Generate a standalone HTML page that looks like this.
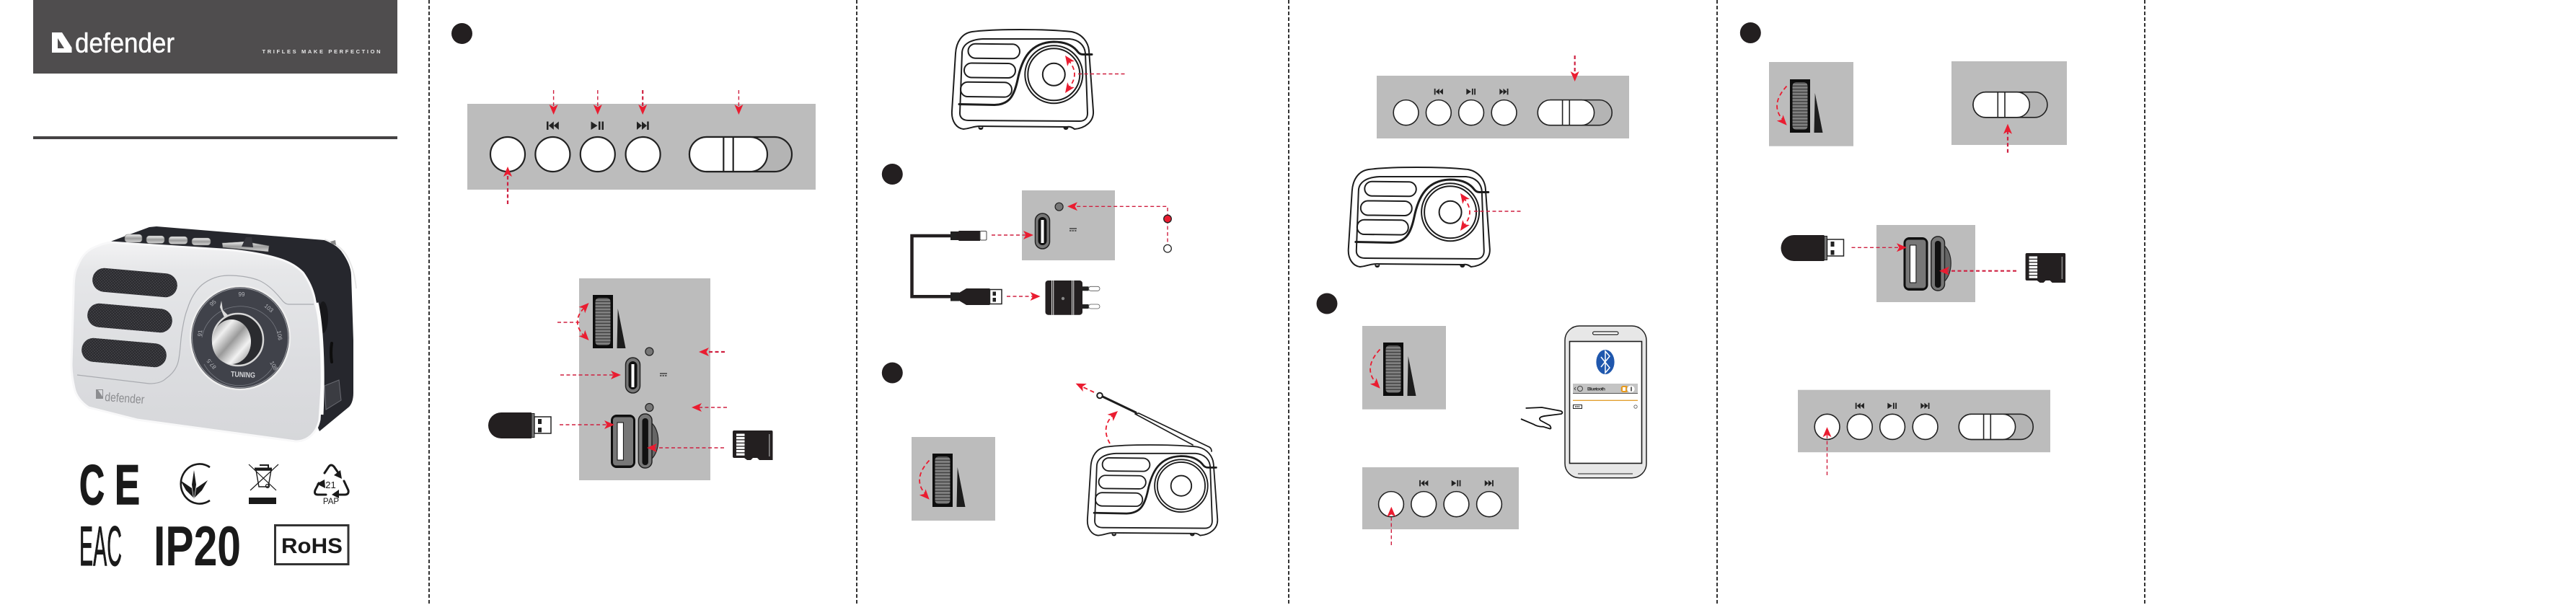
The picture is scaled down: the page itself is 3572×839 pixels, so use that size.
<!DOCTYPE html>
<html><head><meta charset="utf-8"><title>Defender radio manual</title>
<style>
html,body{margin:0;padding:0;background:#fff;width:3572px;height:839px;overflow:hidden}
svg{display:block;position:absolute;left:0;top:0}
text{font-family:"Liberation Sans",sans-serif}
.v{stroke:#333;stroke-width:2;stroke-dasharray:5 3;fill:none}
.d{stroke:#cf2040;stroke-width:1.4;stroke-dasharray:5 3.5;fill:none}
.t{stroke:#cf2040;stroke-width:2.2;stroke-dasharray:5 3.5;fill:none}
.a{stroke:#ea1c30;stroke-width:1.8;stroke-dasharray:6 4;fill:none}
.l{fill:none;stroke:#1d1d1d;stroke-width:2;stroke-linejoin:round;stroke-linecap:round}
</style></head><body>
<svg width="3572" height="839" viewBox="0 0 3572 839" xmlns="http://www.w3.org/2000/svg">
<defs>
<linearGradient id="bodyG" x1="0" y1="0" x2="0" y2="1"><stop offset="0" stop-color="#f3f3f4"/><stop offset=".14" stop-color="#e6e7e9"/><stop offset=".6" stop-color="#dcdde0"/><stop offset="1" stop-color="#d6d7da"/></linearGradient>
<linearGradient id="knobG" x1="0" y1="0" x2="1" y2="1"><stop offset="0" stop-color="#7c7c7c"/><stop offset=".28" stop-color="#efefef"/><stop offset=".5" stop-color="#9a9a9a"/><stop offset=".72" stop-color="#f2f2f2"/><stop offset="1" stop-color="#7e7e7e"/></linearGradient>
<linearGradient id="chrome" x1="0" y1="0" x2="0" y2="1"><stop offset="0" stop-color="#f2f2f2"/><stop offset=".5" stop-color="#9c9c9c"/><stop offset="1" stop-color="#d4d4d4"/></linearGradient>
<pattern id="mesh" width="4" height="4" patternUnits="userSpaceOnUse"><rect width="4" height="4" fill="#2b2b2f"/><circle cx="1" cy="1" r=".7" fill="#56565c"/><circle cx="3" cy="3" r=".7" fill="#56565c"/></pattern>
<pattern id="ribs" width="8" height="4.3" patternUnits="userSpaceOnUse"><rect width="8" height="4.3" fill="#808080"/><rect width="8" height="1.4" fill="#3e3e3e"/></pattern>

<polygon id="h" points="0,0 -14,-6 -10.5,0 -14,6" fill="#ea1c30"/>

<g id="wheel">
<rect x="0" y="0" width="28" height="74" fill="#0d0d0d"/>
<rect x="3.5" y="4" width="21" height="66" rx="5" fill="url(#ribs)"/>
<polygon points="34.7,19 33.5,74 45.5,74" fill="#1d1d1d"/>
</g>
<g id="arcA">
<path class="a" d="M-4.5 9.5Q-29.5 36.5-8 58"/>
<use href="#h" transform="translate(-4.3,63.7) rotate(47)"/>
</g>

<g id="btns" fill="#fff" stroke="#222" stroke-width="2.2">
<ellipse cx="56" cy="70" rx="24" ry="24"/><ellipse cx="118.4" cy="70" rx="24" ry="24"/><ellipse cx="180.8" cy="70" rx="24" ry="24"/><ellipse cx="243.6" cy="70" rx="24" ry="24"/>
</g>
<g id="icons" fill="#222">
<path d="M110 24.500h2.500v11.500h-2.500zM112.800 30.200l7-5.700v11.400zM119.800 30.200l7-5.700v11.400z"/>
<path d="M171.500 24.500l9 5.700-9 5.800zM182 24.500h2.500v11.500H182zM186.500 24.500h2.500v11.500h-2.500z"/>
<path d="M235 24.500l7 5.700-7 5.800zM242 24.500l7 5.700-7 5.800zM249.200 24.500h2.500v11.500h-2.500z"/>
</g>
<g id="slider">
<rect x="308" y="46" width="142" height="48" rx="24" fill="#b4b4b4" stroke="#222" stroke-width="2.2"/>
<rect x="308" y="46" width="108" height="48" rx="24" fill="#fff" stroke="#222" stroke-width="2.2"/>
<path d="M355.300 46V94M368.700 46V94" stroke="#222" stroke-width="2.2"/>
</g>

<g id="usbc">
<rect x="0" y="0" width="20" height="49" rx="10" fill="#777" stroke="#222" stroke-width="1.500"/>
<rect x="4" y="5" width="12" height="39" rx="6" fill="#111"/>
<rect x="8" y="9" width="4" height="32" fill="#fff"/>
</g>
<g id="ports">
<path d="M56 11C69 22 69 50 56 62Z" fill="#666" stroke="#222" stroke-width="1.200"/>
<rect x="0" y="0" width="34" height="74" rx="8" fill="#0f0f0f"/>
<rect x="3" y="3.500" width="28" height="67" rx="4" fill="#777"/>
<rect x="9" y="11" width="8.400" height="52" fill="#fff" stroke="#111" stroke-width="1"/>
<rect x="38.400" y="-1" width="18.600" height="75" rx="9" fill="#777" stroke="#222" stroke-width="1.500"/>
<rect x="43.500" y="5" width="8.400" height="65" rx="4" fill="#111"/>
</g>
<g id="stick">
<path d="M18 0H60V36H18A18 18 0 0 1 18 0Z" fill="#231f20"/>
<rect x="60" y="1.500" width="4" height="33" fill="#777" stroke="#222" stroke-width="1"/>
<rect x="64" y="6" width="23" height="23" fill="#fff" stroke="#222" stroke-width="1.500"/>
<rect x="69" y="9" width="5" height="7" fill="#222"/><rect x="69" y="21" width="5" height="6.500" fill="#222"/>
</g>
<g id="sd">
<path d="M2 0H54Q55.500 0 55.500 2V41H37L34 38H28L25 41H20L16 38H2Q0 38 0 36V2Q0 0 2 0Z" fill="#231f20"/>
<g fill="#fff"><rect x="5" y="4.500" width="11.500" height="3.200"/><rect x="5" y="9" width="11.500" height="3.200"/><rect x="5" y="13.500" width="11.500" height="3.200"/><rect x="5" y="18" width="11.500" height="3.200"/><rect x="5" y="22.500" width="11.500" height="3.200"/><rect x="5" y="27" width="11.500" height="3.200"/><rect x="5" y="31.500" width="11.500" height="3.200"/></g>
<rect x="50" y="5" width="1.600" height="31" fill="#8a8a8a"/>
</g>
<g id="radio" class="l">
<path d="M29 3C60-1 130-1 167 3C182 6 190 18 191 29L197 113C198 128 185 137 171 138C168 136 165 134 160 135L40 134C30 134 28 137 17 138C8 137 0 128 1 113L6 33C7 17 15 5 29 3Z" fill="#fff"/>
<path d="M44 13L164 13C177 14 185 22 186 33L189 116C189 122 186 127 178 127L24 126C16 126 12 122 12 116L15 33C15 22 24 14 44 13Z"/>
<path d="M11 103.500L60 104.500C80 104 87 93 92 70C98 40 110 18 142 17C158 17 168 22 174 29C177 33 179 34.500 183 34.500L195 34.500" stroke-width="3"/>
<rect x="23.500" y="20" width="71.500" height="20" rx="10" transform="rotate(.6 59 30)"/>
<rect x="18" y="46.700" width="71" height="20" rx="10" transform="rotate(.6 53 56)"/>
<rect x="13" y="73" width="71" height="20.300" rx="10" transform="rotate(.6 48 83)"/>
<circle cx="142.300" cy="62.300" r="40"/>
<circle cx="142.300" cy="62.300" r="36"/>
<circle cx="142.300" cy="62.300" r="15.500"/>
<path d="M38.500 136a2.500 2 0 0 0 5 0M156.500 136a2.500 2 0 0 0 5 0" fill="#222"/>
</g>
</defs>

<!-- fold lines -->
<path class="v" d="M595 0V839M1188 0V839M1787 0V839M2381 0V839M2974 0V839"/>

<!-- PANEL 1 -->
<rect x="46" y="0" width="505" height="102" fill="#4f4d4e"/>
<path d="M72 45H99.500V73H72Z" fill="#fff"/>
<path d="M86 45H99.500V66ZM80 53V67H89Z" fill="#4f4d4e"/>
<text x="104" y="72.500" font-size="38" fill="#fff" stroke="#fff" stroke-width=".5" textLength="138" lengthAdjust="spacingAndGlyphs">defender</text>
<text x="363.500" y="74" font-size="7.500" font-weight="bold" fill="#e8e8e8" textLength="164">TRIFLES MAKE PERFECTION</text>
<rect x="46" y="189" width="505" height="4" fill="#454344"/>

<!-- photo -->
<path d="M153 335L207 315L217 314L450 333C462 338 468 342 473 348C482 360 487 372 487 382L490 472L490 545C490 555 487 562 483 565L443 598L400 500Z" fill="#26272d"/>
<path d="M450 332C465 337 475 345 481 355C488 368 492 380 494 400" fill="none" stroke="#e8e8e8" stroke-width="2"/>
<path d="M458 335L465 333L466 340L460 338Z" fill="#888"/>
<ellipse cx="448" cy="440" rx="7" ry="22" fill="#17171a"/>
<path d="M460 476q-2 13 0 26" fill="none" stroke="#0d0d0d" stroke-width="4" stroke-linecap="round"/>
<path d="M450 535L470 527L473 555L452 568Z" fill="#3b3c42" stroke="#6a6b72" stroke-width="1"/>
<g stroke="#666" stroke-width=".6" fill="url(#chrome)">
<rect x="173" y="325" width="24" height="11" rx="4"/>
<rect x="203" y="327" width="25" height="10.500" rx="4"/>
<rect x="234" y="328" width="26" height="10.500" rx="4"/>
<rect x="266" y="330" width="26" height="10" rx="4"/>
<path d="M308 337L340 335L373 341L372 349L309 343Z"/>
</g>
<path d="M335 342L341 329L349 329L351 343Z" fill="#34343a"/>
<path d="M153 336L323 347C350 350 372 354 390 360C405 365 414 372 420 378C430 392 435 405 437 418C442 440 445 455 445 472L447 522L443 582C441 592 436 600 430 605C424 610 417 612 410 612L190 582L123 565C112 558 105 548 103 538C100 525 99 515 99 505L102 405C102 385 104 375 108 368C113 355 122 346 133 342C140 339 147 337 153 336Z" fill="url(#bodyG)" stroke="#f8f8f9" stroke-width="3"/>
<path d="M439 420C446 450 449 510 446 575" fill="none" stroke="#fbfbfb" stroke-width="5"/>
<path d="M107 520L207 532C218 532 225 530 230 525C240 518 245 510 247 502C250 490 250 475 252 462C254 450 256 438 260 428C265 412 272 402 280 395C290 387 303 382 317 382C332 382 345 384 357 388C370 393 382 405 390 415C393 419 396 422 400 422L435 422" fill="none" stroke="#a9abb0" stroke-width="1.200"/>
<rect x="128" y="375.500" width="118" height="33" rx="16.500" fill="url(#mesh)" transform="rotate(5 187 392)"/>
<rect x="121" y="424.500" width="118" height="33" rx="16.500" fill="url(#mesh)" transform="rotate(5 180 441)"/>
<rect x="113" y="472.500" width="118" height="33" rx="16.500" fill="url(#mesh)" transform="rotate(5 172 489)"/>
<ellipse cx="333" cy="468.500" rx="69" ry="71.500" fill="#40424a" stroke="#eeeeee" stroke-width="2.500"/>
<ellipse cx="333" cy="468.500" rx="66.500" ry="69" fill="none" stroke="#9a9ca2" stroke-width="1"/>
<path d="M280 468A54 52 0 0 1 385 462M283 505A56 58 0 0 0 379 508" fill="none" stroke="#777a82" stroke-width=".8"/>
<path d="M307 417L309 430L316 437L311 440L305 426Z" fill="#dcdcdc"/>
<ellipse cx="330" cy="471" rx="35" ry="36" fill="#2a2b2f" stroke="#d6d6d6" stroke-width="2.500"/>
<ellipse cx="321" cy="474" rx="27" ry="31" fill="url(#knobG)"/>
<text x="337" y="523" font-size="10.500" font-weight="bold" fill="#d6d7da" text-anchor="middle" textLength="34" lengthAdjust="spacingAndGlyphs" transform="rotate(3 337 519)">TUNING</text>
<g font-size="8" fill="#b4b6bb" text-anchor="middle">
<text x="335" y="411">99</text><text x="295" y="423" transform="rotate(-40 295 420)">95</text><text x="373" y="430" transform="rotate(40 373 427)">103</text><text x="277" y="465" transform="rotate(-85 277 462)">91</text><text x="388" y="468" transform="rotate(80 388 465)">106</text><text x="293" y="508" transform="rotate(-130 293 505)">87.5</text><text x="380" y="510" transform="rotate(60 380 507)">108</text>
</g>
<path d="M133 540H143V553H133ZM136 541L142 550V541Z" fill="#8c8d90"/>
<text x="145" y="556" font-size="17" fill="#8c8d90" textLength="55" lengthAdjust="spacingAndGlyphs" transform="rotate(4 145 556)">defender</text>

<!-- certification marks -->
<text x="110" y="699" font-size="78" font-weight="bold" fill="#1a1a1a" stroke="#1a1a1a" stroke-width="1.500" textLength="35" lengthAdjust="spacingAndGlyphs">C</text>
<text x="159" y="699" font-size="78" font-weight="bold" fill="#1a1a1a" stroke="#1a1a1a" stroke-width="1.500" textLength="35" lengthAdjust="spacingAndGlyphs">E</text>
<path d="M291 648A26 27.500 0 1 0 291 694" fill="none" stroke="#1a1a1a" stroke-width="2.600"/>
<path d="M269 652L272 672L269 692L266 672Z M250 666L266 677L268 690L258 680Z M288 666L272 677L270 690L280 680Z" fill="#1a1a1a"/>
<g fill="none" stroke="#1a1a1a">
<path d="M345 644L383 680M386 644L347 680" stroke-width="1.200"/>
<path d="M355 652H376L372 675H359Z" stroke-width="1.400"/>
<path d="M353 650H377" stroke-width="3"/><path d="M360 645H372V650" stroke-width="2"/>
<circle cx="371" cy="674" r="2.500" stroke-width="1.200"/>
</g>
<rect x="345" y="690" width="38" height="9" fill="#1a1a1a"/>
<g fill="none" stroke="#1a1a1a" stroke-width="3" stroke-linecap="round">
<path d="M450 656L456 647Q459 643 463 647L470 657"/>
<path d="M477 667L483 680Q484 686 478 686H468"/>
<path d="M452 686H441Q435 686 437 680L442 670"/>
</g>
<path d="M472 652L474 664L463 659ZM470 679L460 686L470 691ZM439 671L450 665L451 677Z" fill="#1a1a1a"/>
<text x="458.500" y="677" font-size="13" fill="#1a1a1a" text-anchor="middle">21</text>
<text x="459" y="699" font-size="11.500" fill="#1a1a1a" text-anchor="middle">PAP</text>
<text x="110" y="784" font-size="78" fill="#1a1a1a" stroke="#1a1a1a" stroke-width="1" textLength="59" lengthAdjust="spacingAndGlyphs">EAC</text>
<text x="213" y="784" font-size="78" font-weight="bold" fill="#1a1a1a" textLength="121" lengthAdjust="spacingAndGlyphs">IP20</text>
<rect x="381.500" y="728.500" width="101.500" height="54" fill="none" stroke="#333" stroke-width="3"/>
<text x="390" y="767" font-size="30" font-weight="bold" fill="#1a1a1a" textLength="85" lengthAdjust="spacingAndGlyphs">RoHS</text>

<!-- PANEL 2 -->
<circle cx="640.500" cy="46.500" r="14.500" fill="#231f20"/>
<rect x="648" y="144" width="483" height="119" fill="#bcbcbc"/>
<g transform="translate(648,144)"><use href="#slider"/><use href="#btns"/><use href="#icons"/></g>
<path class="d" d="M767.600 125V150M828.800 125V150"/><path class="t" d="M891.200 125V150"/><path class="d" d="M1024.400 125V150"/>
<use href="#h" transform="translate(767.600,159) rotate(90)"/><use href="#h" transform="translate(828.800,159) rotate(90)"/><use href="#h" transform="translate(891.200,159) rotate(90)"/><use href="#h" transform="translate(1024.400,159) rotate(90)"/>
<path class="t" d="M704 283V240" stroke-width="2.500"/><use href="#h" transform="translate(704,231) rotate(-90)"/>

<rect x="803" y="386" width="182" height="280" fill="#bcbcbc"/>
<use href="#wheel" transform="translate(822,409)"/>
<circle cx="900.400" cy="487.500" r="5.500" fill="#777" stroke="#222" stroke-width="1.200"/>
<use href="#usbc" transform="translate(867.500,496)"/>
<path d="M915 518H925" stroke="#222" stroke-width="1.200"/><path d="M915 521H925" stroke="#222" stroke-width="1.200" stroke-dasharray="2.500 1"/>
<circle cx="900.400" cy="565" r="5.500" fill="#777" stroke="#222" stroke-width="1.200"/>
<use href="#ports" transform="translate(847,575)"/>
<use href="#stick" transform="translate(677,572)"/>
<use href="#sd" transform="translate(1016,597)"/>
<path class="d" d="M773 447H804"/>
<path class="a" d="M810 427Q791.400 446 810 466"/>
<use href="#h" transform="translate(816.600,420) rotate(-46)"/><use href="#h" transform="translate(816.600,472) rotate(46)"/>
<path class="t" d="M1005 488H979" stroke-width="2.500"/><use href="#h" transform="translate(969,488) rotate(180)"/>
<path class="d" d="M1008 565H969"/><use href="#h" transform="translate(959,565) rotate(180)"/>
<path class="d" d="M777 520H851"/><use href="#h" transform="translate(861,520)"/>
<path class="d" d="M776 589H842"/><use href="#h" transform="translate(852,589)"/>
<path class="d" d="M1004 621H907"/><use href="#h" transform="translate(897,621) rotate(180)"/>

<!-- PANEL 3 -->
<use href="#radio" transform="translate(1319,41)"/>
<path class="a" d="M1481 83Q1499 103 1481 123"/>
<use href="#h" transform="translate(1477,77) rotate(-125)"/><use href="#h" transform="translate(1477,129) rotate(125)"/>
<path class="d" d="M1495 102.500H1563"/>
<circle cx="1237.300" cy="241.500" r="14.500" fill="#231f20"/>
<rect x="1417" y="264" width="129" height="97" fill="#bcbcbc"/>
<use href="#usbc" transform="translate(1435.500,296)"/>
<circle cx="1468.600" cy="286.700" r="5.500" fill="#777" stroke="#222" stroke-width="1.200"/>
<path d="M1483 317H1493" stroke="#222" stroke-width="1.200"/><path d="M1483 320H1493" stroke="#222" stroke-width="1.200" stroke-dasharray="2.500 1"/>
<path class="d" d="M1619 344V286.300H1490"/><use href="#h" transform="translate(1480,286.300) rotate(180)"/>
<circle cx="1619" cy="303.500" r="5.300" fill="#ea1c30" stroke="#222" stroke-width="1.300"/>
<circle cx="1619" cy="344.700" r="5.300" fill="#fff" stroke="#222" stroke-width="1.300"/>
<path class="d" d="M1375 326H1423"/><use href="#h" transform="translate(1433,326)"/>
<path d="M1320 327H1264.500V411.300H1320" fill="none" stroke="#231f20" stroke-width="4.500"/>
<rect x="1318" y="321" width="12" height="12" fill="#222"/>
<path d="M1330 320H1359V334H1330L1326 331V323Z" fill="#231f20"/>
<rect x="1359" y="320.500" width="9" height="12.500" rx="1.500" fill="#fff" stroke="#444" stroke-width="1"/>
<rect x="1318" y="405.500" width="12" height="12" fill="#222"/>
<path d="M1330 406L1340 400H1372.500V423H1340L1330 417Z" fill="#231f20"/>
<rect x="1372.500" y="401.500" width="16.500" height="20" fill="#fff" stroke="#222" stroke-width="1.500"/>
<rect x="1376.500" y="404.500" width="4.500" height="5.500" fill="#222"/><rect x="1376.500" y="413" width="4.500" height="5.500" fill="#222"/>
<path class="d" d="M1396 411H1433"/><use href="#h" transform="translate(1442.600,411)"/>
<rect x="1449.500" y="389" width="51.500" height="47.700" rx="4" fill="#231f20"/>
<path d="M1458.600 389V436.700M1460.800 389V436.700M1486.600 389V436.700M1488.800 389V436.700" stroke="#fff" stroke-width=".9"/>
<circle cx="1474" cy="414" r="2.200" fill="#888"/>
<rect x="1501" y="397.300" width="8.600" height="6" fill="#222"/><rect x="1501" y="422" width="8.600" height="6" fill="#222"/>
<rect x="1509.600" y="397.300" width="15.400" height="6" rx="3" fill="#fff" stroke="#555" stroke-width=".8"/><rect x="1509.600" y="422" width="15.400" height="6" rx="3" fill="#fff" stroke="#555" stroke-width=".8"/>

<circle cx="1237.300" cy="517" r="14.500" fill="#231f20"/>
<rect x="1264" y="606" width="116" height="116" fill="#bcbcbc"/>
<use href="#wheel" transform="translate(1293,629)"/><use href="#arcA" transform="translate(1293,629)"/>
<use href="#radio" transform="translate(1507,617) scale(.92,.91)"/>
<g class="l">
<path d="M1680 626Q1680 622 1677 620L1579 573L1574 574L1654 617" stroke-width="1.700"/>
<path d="M1575 572L1529 550" stroke-width="3"/>
<circle cx="1525" cy="548.500" r="3.800" stroke-width="2"/>
</g>
<path class="a" d="M1539 615Q1526 592 1544 575"/><use href="#h" transform="translate(1550,570) rotate(-42)"/>
<path class="a" d="M1517 544L1500 536"/><use href="#h" transform="translate(1491.600,531.700) rotate(-155)"/>

<!-- PANEL 4 -->
<rect x="1909" y="105" width="350" height="87" fill="#bcbcbc"/>
<g transform="translate(1909,105) scale(.725,.731)"><use href="#slider"/><use href="#btns"/><use href="#icons"/></g>
<path class="t" d="M2183.700 77V103"/><use href="#h" transform="translate(2183.700,113) rotate(90)"/>
<use href="#radio" transform="translate(1868.800,232)"/>
<path class="a" d="M2029 274Q2047 294 2029 314"/>
<use href="#h" transform="translate(2025,268) rotate(-125)"/><use href="#h" transform="translate(2025,320) rotate(125)"/>
<path class="d" d="M2044 293H2111"/>
<circle cx="1840" cy="421" r="14.500" fill="#231f20"/>
<rect x="1889" y="452" width="116" height="115.700" fill="#bcbcbc"/>
<use href="#wheel" transform="translate(1918,475)"/><use href="#arcA" transform="translate(1918,475)"/>
<rect x="1889" y="648" width="217" height="86" fill="#bcbcbc"/>
<g transform="translate(1888.400,648) scale(.725,.731)"><use href="#btns"/><use href="#icons"/></g>
<path class="d" d="M1929.300 756V712"/><use href="#h" transform="translate(1929.300,702.700) rotate(-90)"/>
<path d="M2115.600 566L2138 565L2164.600 570Q2168 572 2165 574L2143.600 576.700Q2132 578 2136 583L2149 590Q2152 595 2149 594.500L2139.700 591.700Q2132 592 2126.300 588.300L2109 581" fill="none" stroke="#111" stroke-width="1.800" stroke-linejoin="round"/>
<rect x="2170" y="452" width="113" height="210.700" rx="20" fill="#e7e7e7" stroke="#222" stroke-width="1.500"/>
<rect x="2176.500" y="473.500" width="100" height="169" fill="#fff" stroke="#1c1c1c" stroke-width="1.600"/>
<rect x="2208.600" y="460" width="35.400" height="4" rx="2" fill="#fff" stroke="#222" stroke-width="1.200"/>
<path d="M2188 657H2264" stroke="#222" stroke-width="1.100"/>
<ellipse cx="2226" cy="502" rx="12.600" ry="17" fill="#1f57ad"/>
<path d="M2220 495L2232 510L2226 517V487L2232 494L2220 509" fill="none" stroke="#fff" stroke-width="1.500"/>
<rect x="2181" y="532" width="90" height="13" fill="#c4c4c4"/>
<path d="M2181 545.500H2271" stroke="#555" stroke-width="1"/>
<path d="M2185 537L2183 539L2185 541" fill="none" stroke="#444" stroke-width=".9"/>
<circle cx="2191" cy="539" r="3.500" fill="none" stroke="#444" stroke-width="1"/>
<text x="2201" y="541.500" font-size="6.500" font-weight="bold" fill="#333" textLength="25">Bluetooth</text>
<rect x="2247.700" y="535" width="10" height="9" rx="3" fill="#e89a1c"/>
<rect x="2250" y="537" width="4" height="5" fill="#fff"/>
<rect x="2256" y="534.500" width="11" height="10" rx="5" fill="#fff" stroke="#bbb" stroke-width=".6"/>
<rect x="2261" y="536.500" width="2" height="6" fill="#666"/>
<path d="M2181 555.300H2271" stroke="#e3a030" stroke-width="1.300"/>
<rect x="2181.500" y="561.500" width="12" height="5" fill="#fff" stroke="#222" stroke-width="1"/>
<path d="M2184 564H2191" stroke="#222" stroke-width="1.500" stroke-dasharray="1.500 .8"/>
<circle cx="2268" cy="564" r="2.200" fill="none" stroke="#555" stroke-width=".8"/>

<!-- PANEL 5 -->
<circle cx="2427.300" cy="45.500" r="14.500" fill="#231f20"/>
<rect x="2453" y="86" width="117" height="116.700" fill="#bcbcbc"/>
<use href="#wheel" transform="translate(2482,110)"/><use href="#arcA" transform="translate(2482,110)"/>
<rect x="2706" y="85" width="160" height="116" fill="#bcbcbc"/>
<g transform="translate(2512.700,94.100) scale(.725,.731)"><use href="#slider"/></g>
<path class="t" d="M2784 211.700V181"/><use href="#h" transform="translate(2784,171.700) rotate(-90)"/>
<rect x="2602" y="312" width="137" height="107" fill="#bcbcbc"/>
<use href="#ports" transform="translate(2639.500,329)"/>
<use href="#stick" transform="translate(2469.500,326)"/>
<use href="#sd" transform="translate(2808.600,351)"/>
<path class="d" d="M2567.500 343.300H2634"/><use href="#h" transform="translate(2644,343.300)"/>
<path class="t" d="M2796 375.700H2699" stroke-width="2.500"/><use href="#h" transform="translate(2689,375.700) rotate(180)"/>

<rect x="2493" y="540.700" width="350" height="86.500" fill="#bcbcbc"/>
<g transform="translate(2493,540.700) scale(.725,.731)"><use href="#slider"/><use href="#btns"/><use href="#icons"/></g>
<path class="d" d="M2533.500 659V602" stroke-width="1"/><use href="#h" transform="translate(2533.500,592.300) rotate(-90)"/>
</svg>
</body></html>
